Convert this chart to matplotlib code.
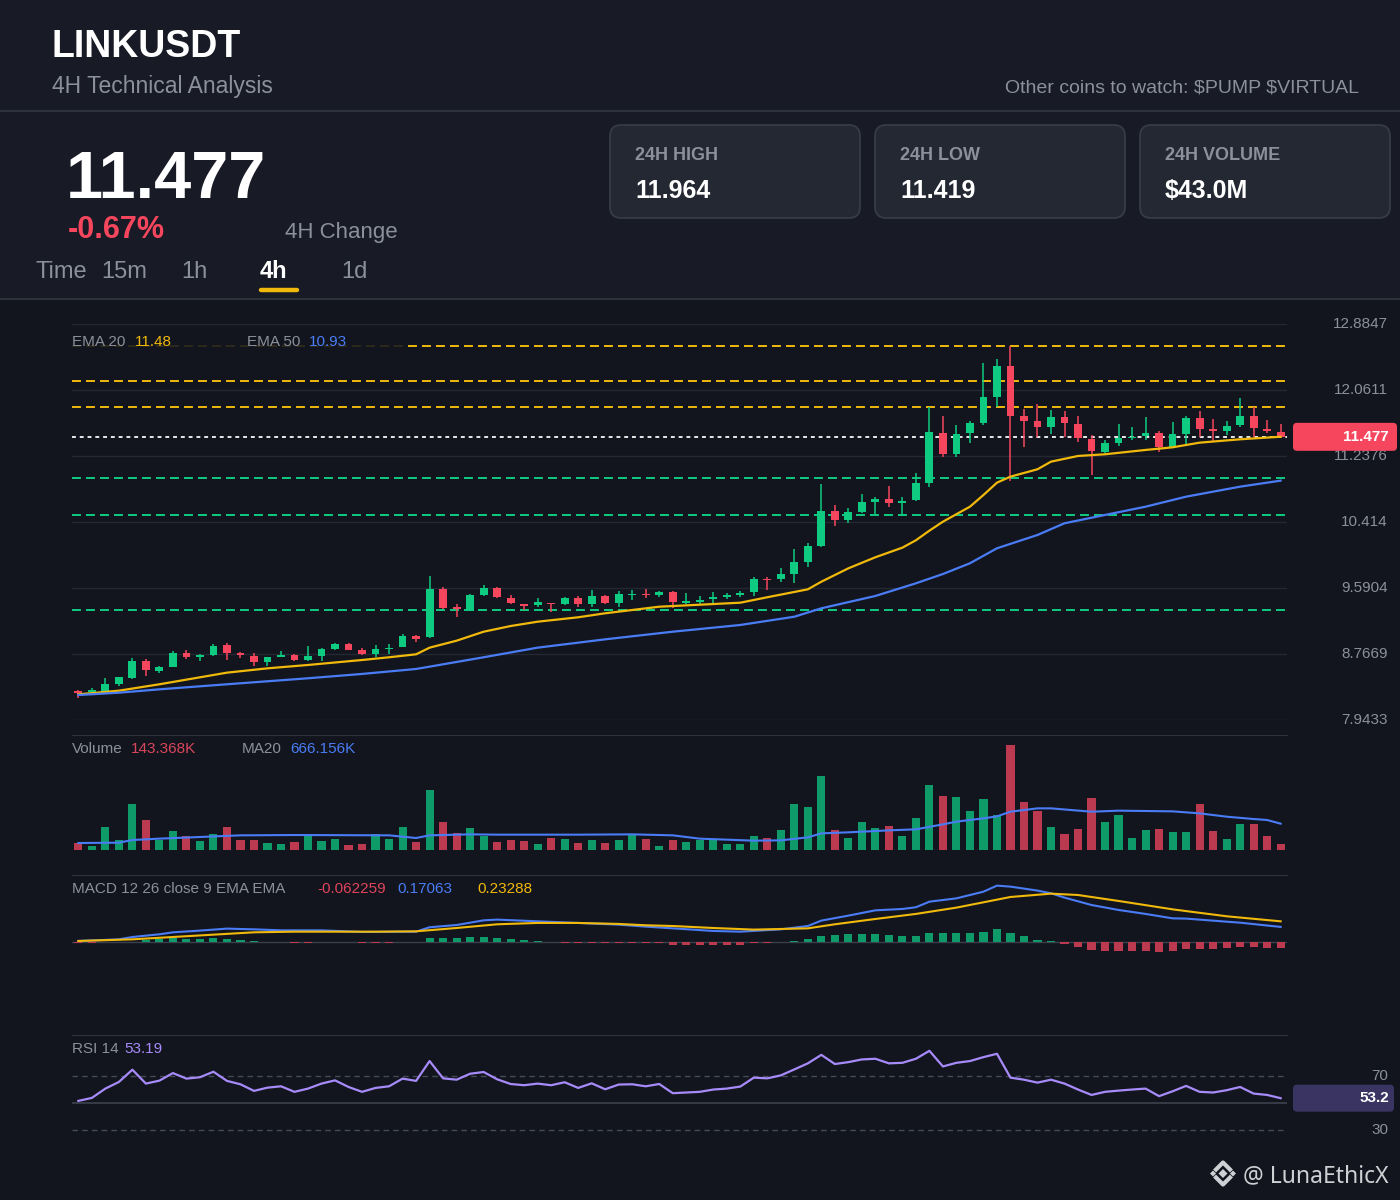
import matplotlib
matplotlib.use("Agg")
from matplotlib import pyplot as plt
from matplotlib.patches import FancyBboxPatch, Rectangle, Polygon

W, H = 1400, 1200

# candles (4h, oldest first)
opens = [8.305, 8.293, 8.297, 8.393, 8.471, 8.684, 8.559, 8.609, 8.776, 8.734,
         8.751, 8.880, 8.783, 8.742, 8.671, 8.734, 8.755, 8.692, 8.742, 8.826,
         8.892, 8.817, 8.767, 8.829, 8.858, 8.992, 8.975, 9.574, 9.350, 9.307,
         9.503, 9.587, 9.462, 9.391, 9.378, 9.407, 9.391, 9.462, 9.391, 9.491,
         9.407, 9.500, 9.516, 9.500, 9.544, 9.407, 9.420, 9.457, 9.482, 9.507,
         9.544, 9.707, 9.699, 9.765, 9.919, 10.115, 10.551, 10.439, 10.543, 10.667,
         10.705, 10.655, 10.689, 10.897, 11.528, 11.263, 11.521, 11.653, 11.978, 12.361,
         11.737, 11.674, 11.603, 11.728, 11.637, 11.446, 11.291, 11.404, 11.458, 11.487,
         11.528, 11.354, 11.508, 11.708, 11.571, 11.553, 11.624, 11.737, 11.578, 11.541]
highs = [8.318, 8.343, 8.468, 8.486, 8.713, 8.701, 8.617, 8.808, 8.817, 8.767,
         8.886, 8.898, 8.796, 8.783, 8.734, 8.808, 8.767, 8.867, 8.836, 8.904,
         8.904, 8.838, 8.880, 8.892, 9.017, 9.004, 9.740, 9.607, 9.391, 9.516,
         9.628, 9.597, 9.503, 9.397, 9.466, 9.409, 9.472, 9.491, 9.566, 9.503,
         9.557, 9.566, 9.574, 9.557, 9.559, 9.524, 9.491, 9.544, 9.532, 9.557,
         9.724, 9.722, 9.836, 10.073, 10.148, 10.888, 10.626, 10.585, 10.764, 10.730,
         10.867, 10.722, 11.029, 11.845, 11.741, 11.624, 11.678, 12.394, 12.444, 12.614,
         11.820, 11.886, 11.812, 11.803, 11.737, 11.500, 11.437, 11.637, 11.596, 11.721,
         11.550, 11.666, 11.741, 11.803, 11.696, 11.674, 11.958, 11.845, 11.687, 11.637]
lows = [8.218, 8.280, 8.290, 8.371, 8.451, 8.496, 8.530, 8.599, 8.701, 8.684,
        8.742, 8.692, 8.721, 8.621, 8.621, 8.730, 8.680, 8.680, 8.684, 8.817,
        8.811, 8.755, 8.734, 8.767, 8.854, 8.920, 8.967, 9.328, 9.225, 9.303,
        9.491, 9.466, 9.391, 9.316, 9.353, 9.295, 9.378, 9.350, 9.357, 9.397,
        9.357, 9.441, 9.462, 9.475, 9.337, 9.391, 9.378, 9.407, 9.450, 9.475,
        9.491, 9.566, 9.669, 9.657, 9.849, 10.098, 10.364, 10.405, 10.530, 10.510,
        10.605, 10.501, 10.676, 10.855, 11.221, 11.229, 11.404, 11.624, 11.853, 10.929,
        11.346, 11.478, 11.512, 11.478, 11.416, 10.997, 11.271, 11.362, 11.437, 11.437,
        11.291, 11.334, 11.387, 11.478, 11.429, 11.500, 11.596, 11.478, 11.521, 11.471]
closes = [8.284, 8.318, 8.389, 8.476, 8.684, 8.567, 8.609, 8.776, 8.726, 8.755,
          8.871, 8.783, 8.751, 8.671, 8.726, 8.755, 8.692, 8.742, 8.826, 8.892,
          8.817, 8.767, 8.826, 8.845, 8.992, 8.950, 9.574, 9.337, 9.332, 9.503,
          9.587, 9.475, 9.400, 9.370, 9.420, 9.391, 9.462, 9.391, 9.491, 9.407,
          9.512, 9.516, 9.500, 9.544, 9.420, 9.424, 9.441, 9.482, 9.503, 9.532,
          9.699, 9.690, 9.765, 9.919, 10.115, 10.551, 10.439, 10.535, 10.660, 10.705,
          10.647, 10.680, 10.897, 11.533, 11.263, 11.512, 11.653, 11.978, 12.361, 11.741,
          11.678, 11.603, 11.728, 11.646, 11.458, 11.304, 11.404, 11.458, 11.478, 11.528,
          11.346, 11.508, 11.708, 11.571, 11.550, 11.616, 11.737, 11.583, 11.553, 11.477]

# volume in thousands
volumes = [169, 101, 582, 244, 1155, 750, 244, 480, 346, 236,
           413, 573, 244, 244, 177, 160, 202, 379, 236, 270,
           118, 143, 405, 270, 582, 194, 1517, 708, 421, 548,
           362, 194, 244, 219, 143, 303, 270, 169, 253, 185,
           244, 379, 270, 101, 244, 194, 253, 287, 152, 143,
           354, 295, 497, 1163, 1087, 1880, 497, 303, 700, 548,
           615, 354, 818, 1652, 1366, 1340, 986, 1290, 885, 2655,
           1214, 986, 582, 396, 523, 1307, 717, 894, 312, 514,
           523, 464, 455, 1155, 472, 287, 658, 666, 362, 143.368]

# indicator lines, sampled at candle indexes
ema20_idx = [0, 3, 6, 9, 11, 14, 17, 21, 23, 25, 26, 28, 30, 32, 34, 37, 39, 43, 49, 51,
             54, 55, 57, 59, 61, 62, 63, 64, 66, 67, 68, 69, 71, 72, 74, 76, 79, 81, 83, 86, 89]
ema20_val = [8.264, 8.309, 8.389, 8.476, 8.534, 8.588, 8.630, 8.692, 8.726, 8.763,
             8.846, 8.933, 9.045, 9.116, 9.170, 9.225, 9.275, 9.357, 9.407, 9.475,
             9.574, 9.669, 9.836, 9.974, 10.094, 10.186, 10.306, 10.418, 10.605, 10.751,
             10.905, 10.980, 11.072, 11.167, 11.238, 11.259, 11.313, 11.346, 11.404, 11.446, 11.478]
ema50_idx = [0, 3, 6, 11, 17, 21, 25, 26, 30, 34, 39, 44, 49, 53, 55, 59, 62, 64, 66, 68,
             71, 73, 76, 79, 82, 86, 89]
ema50_val = [8.255, 8.284, 8.326, 8.389, 8.464, 8.518, 8.580, 8.609, 8.726, 8.846,
             8.950, 9.045, 9.129, 9.232, 9.337, 9.491, 9.649, 9.765, 9.899, 10.086,
             10.252, 10.398, 10.502, 10.605, 10.730, 10.855, 10.93]
vol_ma_idx = [0, 3, 4, 6, 9, 12, 16, 23, 25, 26, 29, 31, 37, 41, 44, 46, 50, 52, 54, 55,
              57, 60, 62, 64, 65, 67, 68, 69, 71, 72, 75, 77, 81, 83, 85, 87, 88, 89]
vol_ma_val = [177, 185, 253, 287, 329, 371, 379, 371, 303, 371, 396, 388, 388, 396, 371,
              287, 236, 244, 320, 421, 447, 497, 523, 649, 717, 801, 851, 969, 1054, 1054,
              969, 995, 978, 927, 843, 784, 759, 666.156]
macd_idx = [0, 3, 4, 6, 7, 9, 11, 13, 15, 18, 21, 25, 26, 28, 29, 30, 31, 34, 37, 40,
            42, 44, 47, 49, 52, 54, 55, 57, 59, 61, 62, 63, 65, 67, 68, 69, 71, 72, 73, 75,
            77, 79, 81, 82, 85, 86, 89]
macd_val = [0.015, 0.033, 0.059, 0.089, 0.111, 0.130, 0.152, 0.144, 0.133, 0.133,
            0.115, 0.118, 0.167, 0.192, 0.218, 0.244, 0.252, 0.233, 0.215, 0.196,
            0.174, 0.155, 0.126, 0.118, 0.144, 0.181, 0.241, 0.296, 0.355, 0.370,
            0.389, 0.451, 0.488, 0.562, 0.629, 0.618, 0.574, 0.544, 0.496, 0.414,
            0.359, 0.315, 0.266, 0.263, 0.229, 0.218, 0.17063]
signal_idx = [0, 4, 7, 10, 13, 16, 19, 22, 25, 28, 31, 34, 37, 40, 42, 44, 47, 50, 54, 56,
              59, 62, 65, 67, 69, 72, 74, 77, 81, 85, 89]
signal_val = [0.015, 0.033, 0.059, 0.085, 0.111, 0.118, 0.118, 0.118, 0.122, 0.159,
              0.200, 0.215, 0.215, 0.204, 0.189, 0.181, 0.159, 0.141, 0.155, 0.200,
              0.259, 0.315, 0.385, 0.444, 0.503, 0.540, 0.525, 0.459, 0.366, 0.289, 0.23288]
macd_hist = [-0.004, -0.004, 0.000, 0.002, 0.004, 0.026, 0.037, 0.044, 0.041, 0.041,
             0.048, 0.037, 0.030, 0.015, 0.007, 0.004, -0.007, -0.007, -0.002, 0.007,
             0.007, -0.007, -0.007, -0.007, 0.007, 0.004, 0.044, 0.052, 0.052, 0.059,
             0.063, 0.052, 0.037, 0.022, 0.015, 0.004, -0.007, -0.007, -0.007, -0.011,
             -0.011, -0.011, -0.011, -0.011, -0.026, -0.030, -0.033, -0.033, -0.026, -0.026,
             -0.011, -0.011, 0.007, 0.018, 0.037, 0.070, 0.081, 0.089, 0.093, 0.093,
             0.081, 0.070, 0.070, 0.104, 0.100, 0.104, 0.104, 0.118, 0.144, 0.104,
             0.067, 0.026, 0.011, -0.015, -0.048, -0.081, -0.096, -0.100, -0.100, -0.096,
             -0.104, -0.096, -0.078, -0.074, -0.074, -0.063, -0.052, -0.056, -0.059, -0.062259]
rsi = [51.2, 53.4, 60.3, 65.2, 74.3, 64.0, 66.2, 71.8, 67.7, 68.7,
       72.8, 66.0, 63.5, 58.6, 61.0, 62.0, 57.9, 60.3, 64.0, 66.4,
       61.5, 57.9, 60.8, 62.0, 67.7, 66.0, 80.7, 67.9, 66.9, 71.3,
       72.6, 67.2, 63.7, 62.8, 64.0, 62.8, 65.0, 60.8, 64.2, 59.8,
       63.3, 63.5, 62.0, 63.7, 56.9, 57.4, 57.9, 59.6, 60.3, 61.8,
       68.4, 67.9, 70.1, 74.5, 79.0, 85.3, 78.5, 79.9, 81.9, 82.4,
       79.0, 79.4, 82.4, 88.3, 76.7, 79.4, 80.7, 83.6, 86.1, 68.4,
       66.9, 64.7, 66.9, 64.0, 59.6, 55.6, 57.9, 58.8, 59.6, 60.3,
       54.7, 58.3, 62.3, 57.9, 57.4, 59.1, 61.5, 56.6, 55.6, 53.19]

resistance = [12.614, 12.170, 11.853]
support = [10.963, 10.498, 9.312]
price_ticks = [7.9433, 8.7669, 9.5904, 10.414, 11.2376, 12.0611, 12.8847]
price_tick_labels = ["7.9433", "8.7669", "9.5904", "10.414", "11.2376", "12.0611", "12.8847"]

symbol = "LINKUSDT"
change_pct = -0.67
watch_text = r"Other coins to watch: \$PUMP \$VIRTUAL"
stat_labels = ["24H HIGH", "24H LOW", "24H VOLUME"]
stat_values = ["11.964", "11.419", r"\$43.0M"]
timeframes = ["15m", "1h", "4h", "1d"]
active_tf = "4h"

# colours
HEAD_BG = "#181b25"
CHART_BG = "#12151d"
SEP = "#2e323d"
GRID = "#242833"
TXT = "#8b909b"
GREEN = "#0ecb81"
RED = "#f6465d"
VGREEN = "#0f9b69"
VRED = "#bb3a50"
YELLOW = "#f0b90b"
BLUE = "#4a7cf5"
PURPLE = "#a78bfa"

plt.rcParams['font.family'] = ['Liberation Sans', 'DejaVu Sans']


def px_axes(fig, x0, y0, x1, y1, z=2):
    ax = fig.add_axes([x0 / W, 1 - y1 / H, (x1 - x0) / W, (y1 - y0) / H])
    ax.set_zorder(z)
    return ax


def panel(ax):
    ax.set_facecolor("none")
    ax.set_xlim(-0.47, 89.47)
    ax.set_xticks([])
    ax.set_yticks([])
    for s in ax.spines.values():
        s.set_visible(False)


def to_px(ax, x, y):
    dx, dy = ax.transData.transform((x, y))
    return dx, H - dy


def main():
    fig = plt.figure(figsize=(W / 100, H / 100), dpi=100)
    fig.patch.set_facecolor(CHART_BG)

    # ---- header (pixel coordinates) ----
    bg = px_axes(fig, 0, 0, W, H, z=0)
    bg.set_xlim(0, W)
    bg.set_ylim(H, 0)
    bg.axis("off")
    bg.add_patch(Rectangle((0, 0), W, 299, fc=HEAD_BG, ec="none"))
    for yy in (111, 299):
        bg.plot([0, W], [yy, yy], color=SEP, lw=1.5)

    bg.text(52, 57, symbol, color="white", fontsize=27, fontweight="bold", va="baseline")
    bg.text(52, 93, "4H Technical Analysis", color=TXT, fontsize=16.5, va="baseline")
    bg.text(1359, 93, watch_text, color=TXT, fontsize=14, ha="right", va="baseline")

    bg.text(66, 198, f"{closes[-1]:.3f}", color="white", fontsize=48, fontweight="bold",
            va="baseline")
    bg.text(68, 238, f"{change_pct:.2f}%", color=RED, fontsize=22, fontweight="bold",
            va="baseline")
    bg.text(285, 238, "4H Change", color=TXT, fontsize=16, va="baseline")

    bg.text(35, 278, "Time", color=TXT, fontsize=17, va="baseline")
    for tf, xx in zip(timeframes, [101, 181, 260, 341]):
        if tf == active_tf:
            bg.text(xx, 278, tf, color="white", fontsize=17, fontweight="bold", va="baseline")
            bg.plot([261, 297], [290, 290], color=YELLOW, lw=3.2, solid_capstyle="round")
        else:
            bg.text(xx, 278, tf, color=TXT, fontsize=17, va="baseline")

    for i, (lab, val) in enumerate(zip(stat_labels, stat_values)):
        x0 = 610 + i * 265
        bg.add_patch(FancyBboxPatch((x0, 125), 250, 93,
                                    boxstyle="round,pad=0,rounding_size=11",
                                    fc="#232833", ec="#363b47", lw=1.3))
        bg.text(x0 + 25, 160, lab, color=TXT, fontsize=13, fontweight="bold",
                va="baseline")
        bg.text(x0 + 25, 198, val, color="white", fontsize=18, fontweight="bold",
                va="baseline")

    # ---- price panel ----
    ax = px_axes(fig, 72, 324, 1287, 720)
    panel(ax)
    ax.set_ylim(price_ticks[0], price_ticks[-1])
    for t in price_ticks:
        ax.axhline(t, color=GRID, lw=1, zorder=0)
    lab_x = (1388 - 72) / (1287 - 72)
    for t, lab in zip(price_ticks, price_tick_labels):
        ax.text(lab_x, t, lab, transform=ax.get_yaxis_transform(), ha="right",
                va="center", color=TXT, fontsize=11)

    for lvl in resistance:
        ax.axhline(lvl, color=YELLOW, lw=1.4, dashes=(4.6, 2.6), zorder=1)
    for lvl in support:
        ax.axhline(lvl, color=GREEN, lw=1.4, dashes=(4.6, 2.6), zorder=1)
    ax.axhline(closes[-1], color="#e8e8e8", lw=1.4, dashes=(2.0, 2.0), zorder=1)

    xs = list(range(len(closes)))
    cols = [GREEN if c >= o else RED for o, c in zip(opens, closes)]
    ax.vlines(xs, lows, highs, colors=cols, lw=1.1, zorder=3)
    bottoms = [min(o, c) for o, c in zip(opens, closes)]
    heights = [max(abs(c - o), 0.014) for o, c in zip(opens, closes)]
    ax.bar(xs, heights, bottom=bottoms, width=0.58, color=cols, zorder=4)

    ax.plot(ema20_idx, ema20_val, color=YELLOW, lw=1.6, zorder=5)
    ax.plot(ema50_idx, ema50_val, color=BLUE, lw=1.6, zorder=5)

    # ---- volume panel ----
    axv = px_axes(fig, 72, 735, 1287, 850)
    panel(axv)
    axv.spines["top"].set_visible(True)
    axv.spines["top"].set_color(SEP)
    axv.set_ylim(0, 2910)
    vcols = [VGREEN if c >= o else VRED for o, c in zip(opens, closes)]
    axv.bar(xs, volumes, width=0.6, color=vcols, zorder=2)
    axv.plot(vol_ma_idx, vol_ma_val, color=BLUE, lw=1.5, zorder=3)

    # ---- MACD panel ----
    axm = px_axes(fig, 72, 875, 1287, 1030)
    panel(axm)
    axm.spines["top"].set_visible(True)
    axm.spines["top"].set_color(SEP)
    axm.set_ylim(-0.973, 0.747)
    axm.axhline(0, color="#3a3f4b", lw=1, zorder=1)
    hcols = [VGREEN if h >= 0 else VRED for h in macd_hist]
    axm.bar(xs, macd_hist, width=0.6, color=hcols, zorder=2)
    axm.plot(macd_idx, macd_val, color=BLUE, lw=1.5, zorder=3)
    axm.plot(signal_idx, signal_val, color=YELLOW, lw=1.5, zorder=3)

    # ---- RSI panel ----
    axr = px_axes(fig, 72, 1035, 1287, 1143)
    panel(axr)
    axr.spines["top"].set_visible(True)
    axr.spines["top"].set_color(SEP)
    axr.set_ylim(20, 100)
    axr.axhline(70, color="#454a56", lw=1, dashes=(4, 3))
    axr.axhline(30, color="#454a56", lw=1, dashes=(4, 3))
    axr.axhline(50, color="#3d424e", lw=1.2)
    axr.plot(xs, rsi, color=PURPLE, lw=1.6, zorder=3)
    for lv in (70, 30):
        axr.text(lab_x, lv, str(lv), transform=axr.get_yaxis_transform(), ha="right",
                 va="center", color=TXT, fontsize=11)

    # ---- foreground: legends, tags, watermark ----
    fg = px_axes(fig, 0, 0, W, H, z=10)
    fg.set_xlim(0, W)
    fg.set_ylim(H, 0)
    fg.axis("off")

    fg.add_patch(Rectangle((66, 332), 338, 19, fc=CHART_BG, ec="none", alpha=0.88))
    fg.text(72, 346, "EMA 20", color=TXT, fontsize=11, va="baseline")
    fg.text(135, 346, f"{ema20_val[-1]:.2f}", color=YELLOW, fontsize=11, va="baseline")
    fg.text(247, 346, "EMA 50", color=TXT, fontsize=11, va="baseline")
    fg.text(309, 346, f"{ema50_val[-1]:.2f}", color=BLUE, fontsize=11, va="baseline")

    fg.text(72, 753, "Volume", color=TXT, fontsize=11, va="baseline")
    fg.text(131, 753, f"{volumes[-1]:.3f}K", color="#d9455c", fontsize=11, va="baseline")
    fg.text(242, 753, "MA20", color=TXT, fontsize=11, va="baseline")
    fg.text(290, 753, f"{vol_ma_val[-1]:.3f}K", color=BLUE, fontsize=11, va="baseline")

    fg.text(72, 893, "MACD 12 26 close 9 EMA EMA", color=TXT, fontsize=11, va="baseline")
    fg.text(317, 893, f"{macd_hist[-1]:.6f}", color="#e0445b", fontsize=11, va="baseline")
    fg.text(397, 893, f"{macd_val[-1]:.5f}", color=BLUE, fontsize=11, va="baseline")
    fg.text(477, 893, f"{signal_val[-1]:.5f}", color=YELLOW, fontsize=11, va="baseline")

    fg.text(72, 1053, "RSI 14", color=TXT, fontsize=11, va="baseline")
    fg.text(124, 1053, f"{rsi[-1]:.2f}", color=PURPLE, fontsize=11, va="baseline")

    _, py = to_px(ax, 0, closes[-1])
    fg.add_patch(FancyBboxPatch((1293, py - 14), 104, 28,
                                boxstyle="round,pad=0,rounding_size=4",
                                fc=RED, ec="none"))
    fg.text(1389, py, f"{closes[-1]:.3f}", color="white", fontsize=11,
            fontweight="bold", ha="right", va="center")

    _, ry = to_px(axr, 0, rsi[-1])
    fg.add_patch(FancyBboxPatch((1293, ry - 13.5), 101, 27,
                                boxstyle="round,pad=0,rounding_size=4",
                                fc="#3a3463", ec="none"))
    fg.text(1389, ry, f"{rsi[-1]:.1f}", color="white", fontsize=11,
            fontweight="bold", ha="right", va="center")

    # watermark logo + handle
    cx, cy = 1223, 1173.5
    wm = "#cfd0d4"
    fg.add_patch(Polygon([(cx, cy - 4.5), (cx + 4.5, cy), (cx, cy + 4.5), (cx - 4.5, cy)],
                         fc=wm, ec="none"))
    for dx in (-10, 10):
        fg.add_patch(Polygon([(cx + dx, cy - 3), (cx + dx + 3, cy), (cx + dx, cy + 3),
                              (cx + dx - 3, cy)], fc=wm, ec="none"))
    fg.plot([cx - 7, cx, cx + 7], [cy - 4, cy - 11, cy - 4], color=wm, lw=3)
    fg.plot([cx - 7, cx, cx + 7], [cy + 4, cy + 11, cy + 4], color=wm, lw=3)
    fg.text(1243, 1182, "@ LunaEthicX", color=wm, fontsize=16.5, va="baseline",
            family=["Noto Sans", "DejaVu Sans"])

    fig.savefig("out.png", dpi=100, facecolor=fig.get_facecolor())
    plt.close(fig)


if __name__ == "__main__":
    main()
